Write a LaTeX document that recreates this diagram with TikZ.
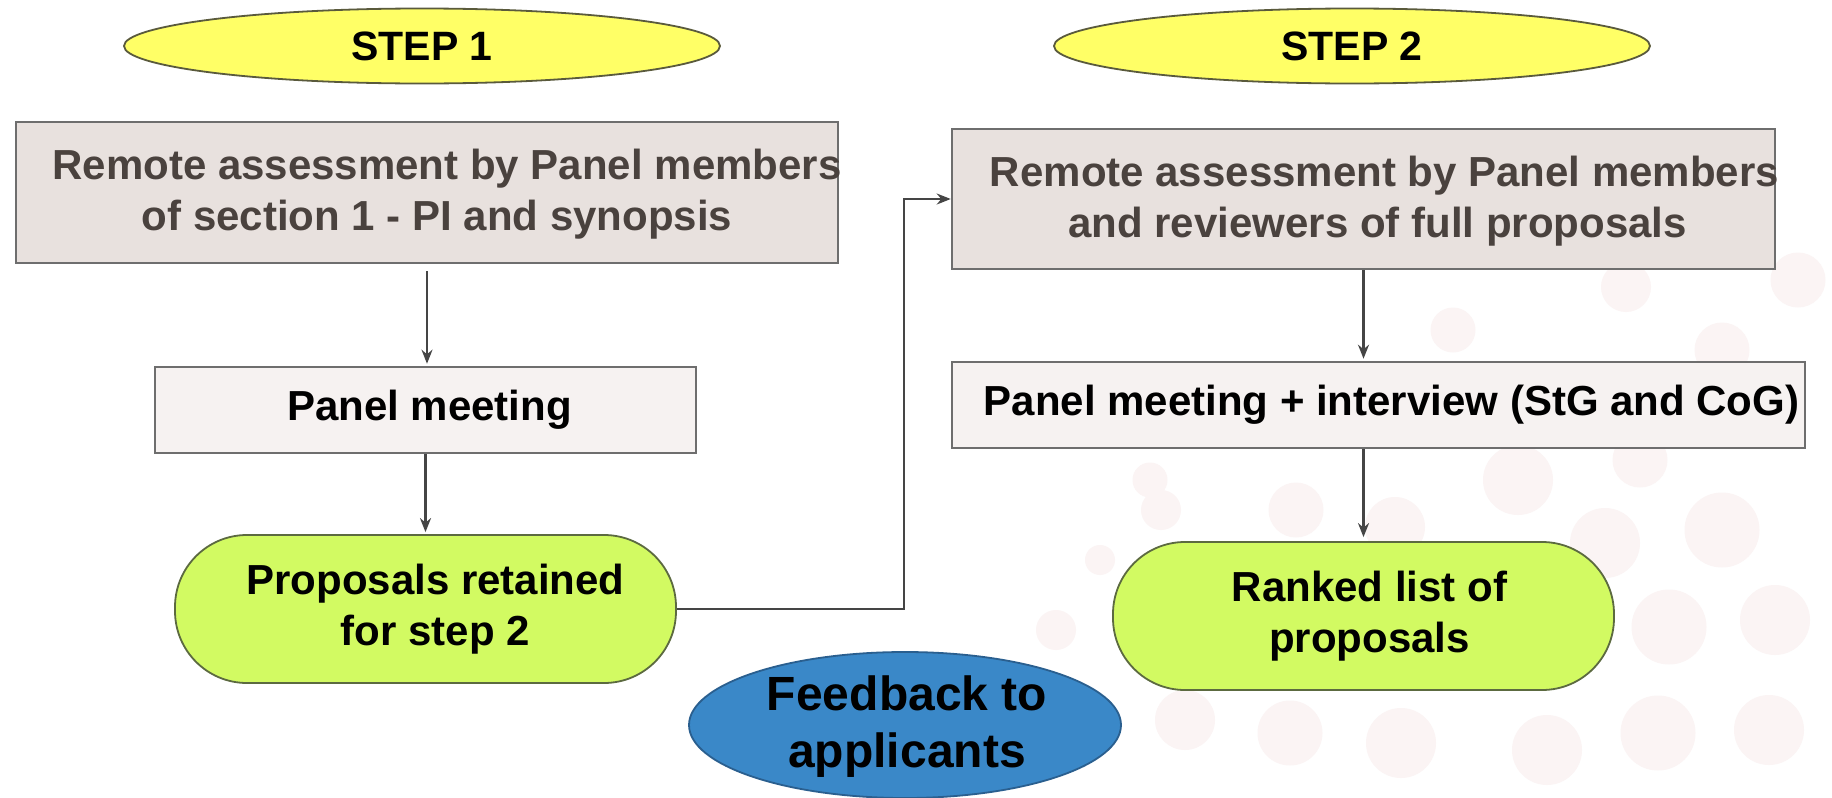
\documentclass[tikz,border=0pt]{standalone}
\usepackage{fontspec}
\setmainfont{Liberation Sans}
\usetikzlibrary{shapes.geometric,arrows.meta}
\definecolor{stepyellow}{HTML}{FFFF66}
\definecolor{stepborder}{HTML}{5A5A3C}
\definecolor{greyfill}{HTML}{E8E1DE}
\definecolor{lightfill}{HTML}{F6F2F1}
\definecolor{boxborder}{HTML}{6E6E6E}
\definecolor{greenfill}{HTML}{D2FA62}
\definecolor{greenborder}{HTML}{5C6A40}
\definecolor{bluefill}{HTML}{3A88C8}
\definecolor{blueborder}{HTML}{2A5F8F}
\definecolor{greytext}{HTML}{4A423E}
\definecolor{conncol}{HTML}{454545}
\definecolor{dotcol}{HTML}{FBF4F4}
\begin{document}
\begin{tikzpicture}[x=1pt,y=-1pt,
  stepoval/.style={ellipse,draw=stepborder,line width=1.8pt,fill=stepyellow,inner sep=0pt,minimum width=596pt,minimum height=75pt,font=\fontsize{41}{48}\selectfont\bfseries},
  greybox/.style={rectangle,draw=boxborder,line width=2.6pt,fill=greyfill,inner sep=0pt},
  lightbox/.style={rectangle,draw=boxborder,line width=2.6pt,fill=lightfill,inner sep=0pt},
  pill/.style={rectangle,rounded corners=72pt,draw=greenborder,line width=1.8pt,fill=greenfill,inner sep=0pt,minimum width=501pt,minimum height=148pt},
  fbell/.style={ellipse,draw=blueborder,line width=1.8pt,fill=bluefill,inner sep=0pt,minimum width=432pt,minimum height=146pt},
  maintext/.style={align=center,inner sep=0pt,font=\fontsize{42}{51}\selectfont\bfseries},
  conn/.style={draw=conncol,line width=2.2pt,-{Stealth[length=14pt,width=11pt]}},
  dot/.style={circle,fill=dotcol,draw=none,inner sep=0pt}
]
\useasboundingbox (0,0) rectangle (1832,798);
\fill[white] (0,0) rectangle (1832,798);
% faint background dots
\foreach \x/\y/\d in {1518/480/70,1722/530/75,1605/543/70,1669/627/75,1775/620/70,1658/733/75,1769/730/70,1547/750/70,1401/743/70,1290/733/65,1185/720/60,1296/510/55,1395/527/60,1161/510/40,1056/630/40,1640/460/55,1626/287/50,1798/280/55,1453/330/45,1722/350/55,1150/480/35,1100/560/30}
  \node[dot,minimum size=\d pt] (d\x) at (\x,\y) {};
% step labels
\node[stepoval] (s1) at (422,46) {STEP 1};
\node[stepoval] (s2) at (1352,46) {STEP 2};
% step 1 column
\node[greybox,minimum width=822pt,minimum height=141pt] (r1) at (427,192.5) {};
\node[maintext,text=greytext] (r1t) at ([xshift=10pt,yshift=-2pt]r1.center) {\hspace*{20pt}Remote assessment by Panel members\\of section 1 - PI and synopsis};
\node[lightbox,minimum width=541pt,minimum height=86pt] (p1) at (425.5,410) {};
\node[maintext] (p1t) at ([xshift=4pt]p1.center) {Panel meeting};
\node[pill] (g1) at (425.5,609) {};
\node[maintext] (g1t) at ([xshift=10pt]g1.center) {Proposals retained\\for step 2};
% step 2 column
\node[greybox,minimum width=823pt,minimum height=140pt] (r2) at (1363.5,199) {};
\node[maintext,text=greytext] (r2t) at ([xshift=14pt,yshift=-2pt]r2.center) {\hspace*{14pt}Remote assessment by Panel members\\and reviewers of full proposals};
\node[lightbox,minimum width=853pt,minimum height=86pt] (p2) at (1378.5,405) {};
\node[maintext] (p2t) at ([xshift=13pt]p2.center) {Panel meeting + interview (StG and CoG)};
\node[pill] (g2) at (1363.5,616) {};
\node[maintext] (g2t) at ([xshift=6pt]g2.center) {Ranked list of\\proposals};
% feedback
\node[fbell] (fb) at (905,725) {};
\node[maintext,font=\fontsize{48}{57}\selectfont\bfseries] (fbt) at (907,727) {Feedback to\\applicants};
% connectors
\coordinate (bend) at (904,0);
\draw[conn,shorten <=7pt,shorten >=2pt] (r1.south) -- (p1.north -| r1.south);
\draw[conn,shorten >=2pt] (p1.south) -- (g1.north);
\draw[conn] (g1.east) -- (g1.east -| bend) -- (bend |- r2.west) -- (r2.west);
\draw[conn,shorten >=2pt] (r2.south) -- (r2.south |- p2.north);
\draw[conn,shorten >=4pt] (g2.north |- p2.south) -- (g2.north);
\end{tikzpicture}
\end{document}
